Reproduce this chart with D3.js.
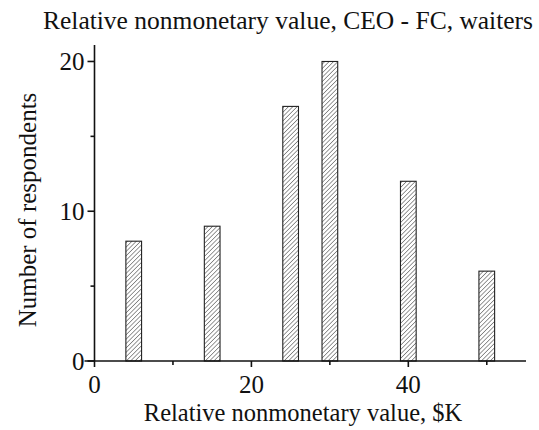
<!DOCTYPE html>
<html>
<head>
<meta charset="utf-8">
<script src="https://cdn.jsdelivr.net/npm/d3@7"></script>
<style>
  body { margin: 0; background: #fff; }
  text { font-family: "Liberation Serif", "DejaVu Serif", serif; fill: #111; }
</style>
</head>
<body>
<div id="chart"></div>
<script>
// histogram data
var binCenters = [5, 15, 25, 30, 40, 50]
var counts = [8, 9, 17, 20, 12, 6]
var xTicks = [0, 20, 40]
var xMinor = [10, 30, 50]
var yTicks = [0, 10, 20]
var yMinor = [5, 15]

var width = 539, height = 430
var margin = {left: 94.5, right: 13, top: 45, bottom: 69}

var svg = d3.select('#chart').append('svg').attr('width', width).attr('height', height)

var x = d3.scaleLinear().domain([0, 55]).range([margin.left, width - margin.right])
var y = d3.scaleLinear().domain([0, 21.1]).range([height - margin.bottom, margin.top])

// hatch pattern
var hs = 3.1
var defs = svg.append('defs')
var pat = defs.append('pattern').attr('id', 'hatch').attr('patternUnits', 'userSpaceOnUse')
  .attr('width', hs).attr('height', hs).attr('patternTransform', 'rotate(45)')
pat.append('rect').attr('width', hs).attr('height', hs).attr('fill', '#fff')
pat.append('line').attr('x1', 0).attr('y1', 0).attr('x2', 0).attr('y2', hs)
  .attr('stroke', '#333').attr('stroke-width', 1)

var barW = 2 // in data units
svg.append('g').selectAll('rect')
  .data(binCenters).join('rect')
  .attr('x', d => x(d - barW / 2))
  .attr('y', (d, i) => y(counts[i]))
  .attr('width', d => x(d + barW / 2) - x(d - barW / 2))
  .attr('height', (d, i) => y(0) - y(counts[i]))
  .attr('fill', 'url(#hatch)')
  .attr('stroke', '#222').attr('stroke-width', 1.1)

// x axis
var xAxis = svg.append('g').attr('transform', 'translate(0,' + y(0) + ')')
xAxis.append('line').attr('x1', x(0) - 10).attr('x2', x(55)).attr('stroke', '#111').attr('stroke-width', 1.6)
xAxis.selectAll('.maj').data(xTicks).join('line').attr('class', 'maj')
  .attr('x1', d => x(d)).attr('x2', d => x(d)).attr('y1', 0).attr('y2', 6)
  .attr('stroke', '#111').attr('stroke-width', 1.6)
xAxis.selectAll('.mnr').data(xMinor).join('line').attr('class', 'mnr')
  .attr('x1', d => x(d)).attr('x2', d => x(d)).attr('y1', 0).attr('y2', 4)
  .attr('stroke', '#111').attr('stroke-width', 1.6)
xAxis.selectAll('text').data(xTicks).join('text')
  .attr('x', d => x(d)).attr('y', 32).attr('text-anchor', 'middle')
  .style('font-size', '25px').text(d => d)

// y axis
var yAxis = svg.append('g').attr('transform', 'translate(' + x(0) + ',0)')
yAxis.append('line').attr('y1', y(0)).attr('y2', y(21.1)).attr('stroke', '#111').attr('stroke-width', 1.6)
yAxis.selectAll('.maj').data(yTicks).join('line').attr('class', 'maj')
  .attr('y1', d => y(d)).attr('y2', d => y(d)).attr('x1', 0).attr('x2', -7)
  .attr('stroke', '#111').attr('stroke-width', 1.6)
yAxis.selectAll('.mnr').data(yMinor).join('line').attr('class', 'mnr')
  .attr('y1', d => y(d)).attr('y2', d => y(d)).attr('x1', 0).attr('x2', -4)
  .attr('stroke', '#111').attr('stroke-width', 1.6)
yAxis.selectAll('text').data(yTicks).join('text')
  .attr('x', -10).attr('y', d => y(d) + 8.5).attr('text-anchor', 'end')
  .style('font-size', '25px').text(d => d)

// titles
svg.append('text').attr('x', 288).attr('y', 29).attr('text-anchor', 'middle')
  .style('font-size', '25.5px').text('Relative nonmonetary value, CEO - FC, waiters')
svg.append('text').attr('x', 303).attr('y', 421).attr('text-anchor', 'middle')
  .style('font-size', '24.5px').text('Relative nonmonetary value, $K')
svg.append('text').attr('transform', 'translate(36,210) rotate(-90)').attr('text-anchor', 'middle')
  .style('font-size', '25px').text('Number of respondents')
</script>
</body>
</html>
